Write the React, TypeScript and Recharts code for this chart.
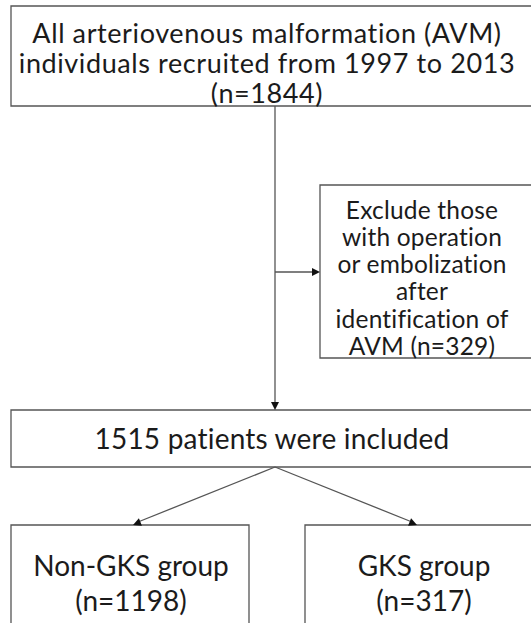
import React from 'react';
import {
  ComposedChart,
  XAxis,
  YAxis,
  ReferenceArea,
  ReferenceLine,
  Scatter,
} from 'recharts';

// box texts
const topLines = [
  'All arteriovenous malformation (AVM)',
  'individuals recruited from 1997 to 2013',
  '(n=1844)',
];
const excludeLines = [
  'Exclude those',
  'with operation',
  'or embolization',
  'after',
  'identification of',
  'AVM (n=329)',
];
const includedLines = ['1515 patients were included'];
const nonGksLines = ['Non-GKS group', '(n=1198)'];
const gksLines = ['GKS group', '(n=317)'];

const W = 531;
const H = 623;
const LINE = '#555';
const INK = '#1b1b1b';
const FONT = 'Lato, "Open Sans", sans-serif';

interface Box {
  x1: number;
  x2: number;
  y1: number;
  y2: number;
  cx: number;
  top: number;
  step: number;
  size: number;
  spacing: number;
  lines: string[];
}

const boxes: Box[] = [
  { x1: 11, x2: 545, y1: 6, y2: 106, cx: 267, top: 32, step: 30, size: 27, spacing: 0.6, lines: topLines },
  { x1: 320, x2: 545, y1: 185, y2: 358, cx: 422, top: 209, step: 27.3, size: 24.5, spacing: 0.2, lines: excludeLines },
  { x1: 11, x2: 545, y1: 410, y2: 467, cx: 272, top: 438, step: 0, size: 28, spacing: 0.2, lines: includedLines },
  { x1: 11, x2: 249, y1: 525, y2: 640, cx: 131, top: 565, step: 35, size: 28, spacing: 0, lines: nonGksLines },
  { x1: 305, x2: 545, y1: 525, y2: 640, cx: 424, top: 565, step: 35, size: 28, spacing: 0, lines: gksLines },
];

const textPoints = boxes.flatMap((b) =>
  b.lines.map((t, i) => ({
    x: b.cx,
    y: b.top + i * b.step,
    text: t,
    size: b.size,
    spacing: b.spacing,
  })),
);

const connectors = [
  [{ x: 275, y: 106 }, { x: 275, y: 404 }],
  [{ x: 275, y: 272 }, { x: 314, y: 272 }],
  [{ x: 275, y: 467 }, { x: 138, y: 522 }],
  [{ x: 275, y: 467 }, { x: 412, y: 522 }],
];

// arrow tips and their direction in degrees (0 = pointing right)
const arrowTips = [
  { x: 275, y: 410, angle: 90 },
  { x: 320, y: 272, angle: 0 },
  { x: 133, y: 525, angle: 158 },
  { x: 417, y: 525, angle: 22 },
];

const TextShape = (props: any) => {
  const { cx, cy, payload } = props;
  return (
    <text
      x={cx}
      y={cy}
      textAnchor="middle"
      dominantBaseline="central"
      fontFamily={FONT}
      fontSize={payload.size}
      letterSpacing={payload.spacing}
      fill={INK}
    >
      {payload.text}
    </text>
  );
};

const ArrowShape = (props: any) => {
  const { cx, cy, payload } = props;
  return (
    <polygon
      points="0,0 -8,-4 -8,4"
      fill="#111"
      transform={`translate(${cx},${cy}) rotate(${payload.angle})`}
    />
  );
};

export default function App() {
  return (
    <div style={{ position: 'absolute', left: 0, top: 0, background: '#fff' }}>
      <ComposedChart width={W} height={H} margin={{ top: 0, right: 0, bottom: 0, left: 0 }}>
        <XAxis type="number" dataKey="x" domain={[0, W]} hide allowDataOverflow />
        <YAxis type="number" dataKey="y" domain={[0, H]} reversed hide allowDataOverflow />
        {boxes.map((b, i) => (
          <ReferenceArea
            key={`box-${i}`}
            x1={b.x1}
            x2={b.x2}
            y1={b.y1}
            y2={b.y2}
            fill="#fff"
            fillOpacity={1}
            stroke={LINE}
            strokeWidth={1.3}
            ifOverflow="visible"
          />
        ))}
        {connectors.map((seg, i) => (
          <ReferenceLine
            key={`seg-${i}`}
            segment={seg}
            stroke={LINE}
            strokeWidth={1.3}
            ifOverflow="visible"
          />
        ))}
        <Scatter data={arrowTips} shape={<ArrowShape />} isAnimationActive={false} />
        <Scatter data={textPoints} shape={<TextShape />} isAnimationActive={false} />
      </ComposedChart>
    </div>
  );
}
